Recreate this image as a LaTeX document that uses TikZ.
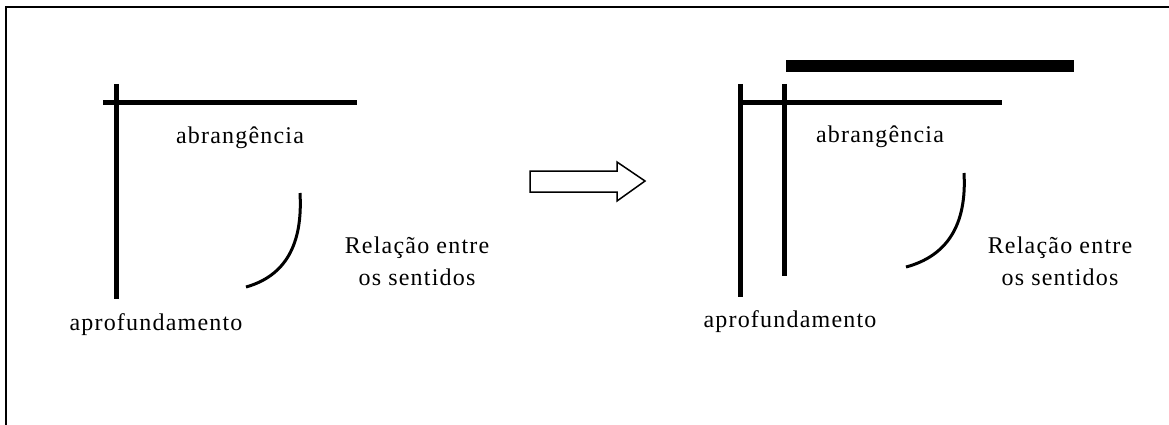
\documentclass[tikz,border=0pt]{standalone}
\usepackage{fontspec}
\setmainfont{Liberation Serif}[LetterSpace=5]
\tikzset{
  eixo/.style={line width=5pt},
  faixa/.style={line width=12pt},
  curva/.style={line width=3pt},
  rotulo/.style={font=\fontsize{24}{32}\selectfont, inner sep=0pt, align=center}
}

\begin{document}
\begin{tikzpicture}[x=1pt,y=-1pt]
  \useasboundingbox (0,0) rectangle (1169,425);
  \draw[line width=2pt] (6,425) -- (6,7) -- (1169,7);
  % esquerda
  \draw[eixo] (103,103) -- (357,103);
  \draw[eixo] (116,84) -- (116,299);
  \draw[curva] (300,193) .. controls (303,245) and (285,276) .. (246,287);
  \node[rotulo] (abrE) at (240,138) {abrangência};
  \node[rotulo] (aproE) at (156,325) {aprofundamento};
  \node[rotulo] (relE) at (417,261) {Relação entre\\os sentidos};
  % seta
  \draw[line width=1.5pt] (530,171) -- (617,171) -- (617,162) -- (645,181)
    -- (617,201) -- (617,192) -- (530,192) -- cycle;
  % direita
  \draw[faixa] (786,66) -- (1074,66);
  \draw[eixo] (740,103) -- (1002,103);
  \draw[eixo] (740,84) -- (740,297);
  \draw[eixo] (784,84) -- (784,276);
  \draw[curva] (964,173) .. controls (967,225) and (947,256) .. (906,267);
  \node[rotulo] (abrD) at (880,137) {abrangência};
  \node[rotulo] (aproD) at (790,322) {aprofundamento};
  \node[rotulo] (relD) at (1060,261) {Relação entre\\os sentidos};
\end{tikzpicture}
\end{document}
